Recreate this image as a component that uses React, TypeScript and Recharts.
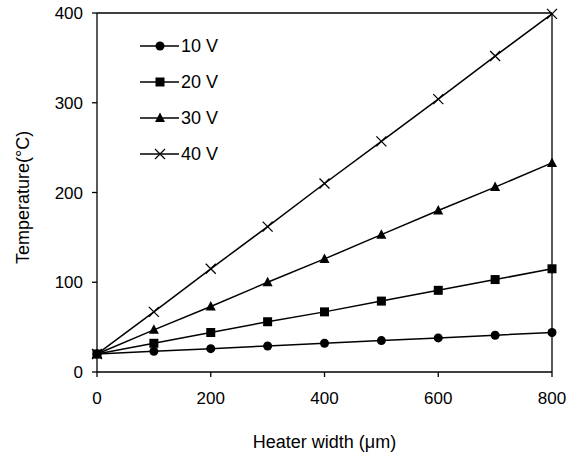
import React from 'react';
import { LineChart, Line, XAxis, YAxis, ReferenceLine } from 'recharts';

// heater width in µm
const widths = [0, 100, 200, 300, 400, 500, 600, 700, 800];

// peak temperature (°C) per drive voltage
const temp10V = [20, 23, 26, 29, 32, 35, 38, 41, 44];
const temp20V = [20, 32, 44, 56, 67, 79, 91, 103, 115];
const temp30V = [20, 47, 73, 100, 126, 153, 180, 206, 233];
const temp40V = [20, 67, 115, 162, 210, 257, 304, 352, 399];

const xTicks = [0, 200, 400, 600, 800];
const yTicks = [0, 100, 200, 300, 400];

const FONT = '"Liberation Sans", Arial, sans-serif';

const data = widths.map((w, i) => ({
  w,
  v10: temp10V[i],
  v20: temp20V[i],
  v30: temp30V[i],
  v40: temp40V[i],
}));

type Shape = 'circle' | 'square' | 'triangle' | 'cross';

const SERIES: { key: string; name: string; shape: Shape }[] = [
  { key: 'v10', name: '10 V', shape: 'circle' },
  { key: 'v20', name: '20 V', shape: 'square' },
  { key: 'v30', name: '30 V', shape: 'triangle' },
  { key: 'v40', name: '40 V', shape: 'cross' },
];

const Marker = ({ cx, cy, shape }: { cx: number; cy: number; shape: Shape }) => {
  if (cx == null || cy == null) return null;
  switch (shape) {
    case 'circle':
      return <circle cx={cx} cy={cy} r={4.5} fill="#000" />;
    case 'square':
      return <rect x={cx - 4.5} y={cy - 4.5} width={9} height={9} fill="#000" />;
    case 'triangle':
      return <polygon points={`${cx},${cy - 5.5} ${cx + 5},${cy + 4} ${cx - 5},${cy + 4}`} fill="#000" />;
    default:
      return (
        <path
          d={`M${cx - 5},${cy - 5}L${cx + 5},${cy + 5}M${cx - 5},${cy + 5}L${cx + 5},${cy - 5}`}
          stroke="#000"
          strokeWidth={1.3}
        />
      );
  }
};

// legend block sitting in the upper-left of the plot
const LegendBox = () => (
  <svg width={140} height={150} style={{ position: 'absolute', left: 140, top: 30, overflow: 'visible' }}>
    {SERIES.map((s, i) => {
      const y = 16 + i * 36;
      return (
        <g key={s.key}>
          <line x1={0} x2={39} y1={y} y2={y} stroke="#000" strokeWidth={1.5} />
          <Marker cx={20} cy={y} shape={s.shape} />
          <text x={41} y={y + 6} fontSize={18} fontFamily={FONT} fill="#000">
            {s.name}
          </text>
        </g>
      );
    })}
  </svg>
);

const XTitle = ({ viewBox }: any) => (
  <text
    x={viewBox.x + viewBox.width / 2}
    y={viewBox.y + 76}
    textAnchor="middle"
    fontSize={18}
    fontFamily={FONT}
    fill="#000"
  >
    Heater width (μm)
  </text>
);

const YTitle = ({ viewBox }: any) => {
  const x = 29;
  const y = viewBox.y + viewBox.height / 2 + 5;
  return (
    <text x={x} y={y} transform={`rotate(-90 ${x} ${y})`} textAnchor="middle" fontSize={18} fontFamily={FONT} fill="#000">
      Temperature(°C)
    </text>
  );
};

export default function App() {
  return (
    <div style={{ position: 'absolute', left: 0, top: 0, width: 580, height: 459, background: '#fff' }}>
      <LineChart width={580} height={459} data={data} margin={{ top: 13, right: 28, left: 0, bottom: 0 }}>
        <XAxis
          dataKey="w"
          type="number"
          domain={[0, 800]}
          ticks={xTicks}
          height={87}
          stroke="#000"
          strokeWidth={1.3}
          tickSize={5}
          tick={{ fill: '#000', fontSize: 17, fontFamily: FONT, dy: 13 }}
          label={<XTitle />}
        />
        <YAxis
          type="number"
          domain={[0, 400]}
          ticks={yTicks}
          width={97}
          stroke="#000"
          strokeWidth={1.3}
          tickSize={5}
          tick={{ fill: '#000', fontSize: 17, fontFamily: FONT, dx: -7 }}
          label={<YTitle />}
        />
        <ReferenceLine y={400} stroke="#000" strokeWidth={1.3} ifOverflow="visible" />
        <ReferenceLine x={800} stroke="#000" strokeWidth={1.3} ifOverflow="visible" />
        {SERIES.map((s) => (
          <Line
            key={s.key}
            dataKey={s.key}
            name={s.name}
            type="linear"
            stroke="#000"
            strokeWidth={1.5}
            isAnimationActive={false}
            dot={(p: any) => <Marker key={`${s.key}-${p.index}`} cx={p.cx} cy={p.cy} shape={s.shape} />}
            activeDot={false}
          />
        ))}
      </LineChart>
      <LegendBox />
    </div>
  );
}
